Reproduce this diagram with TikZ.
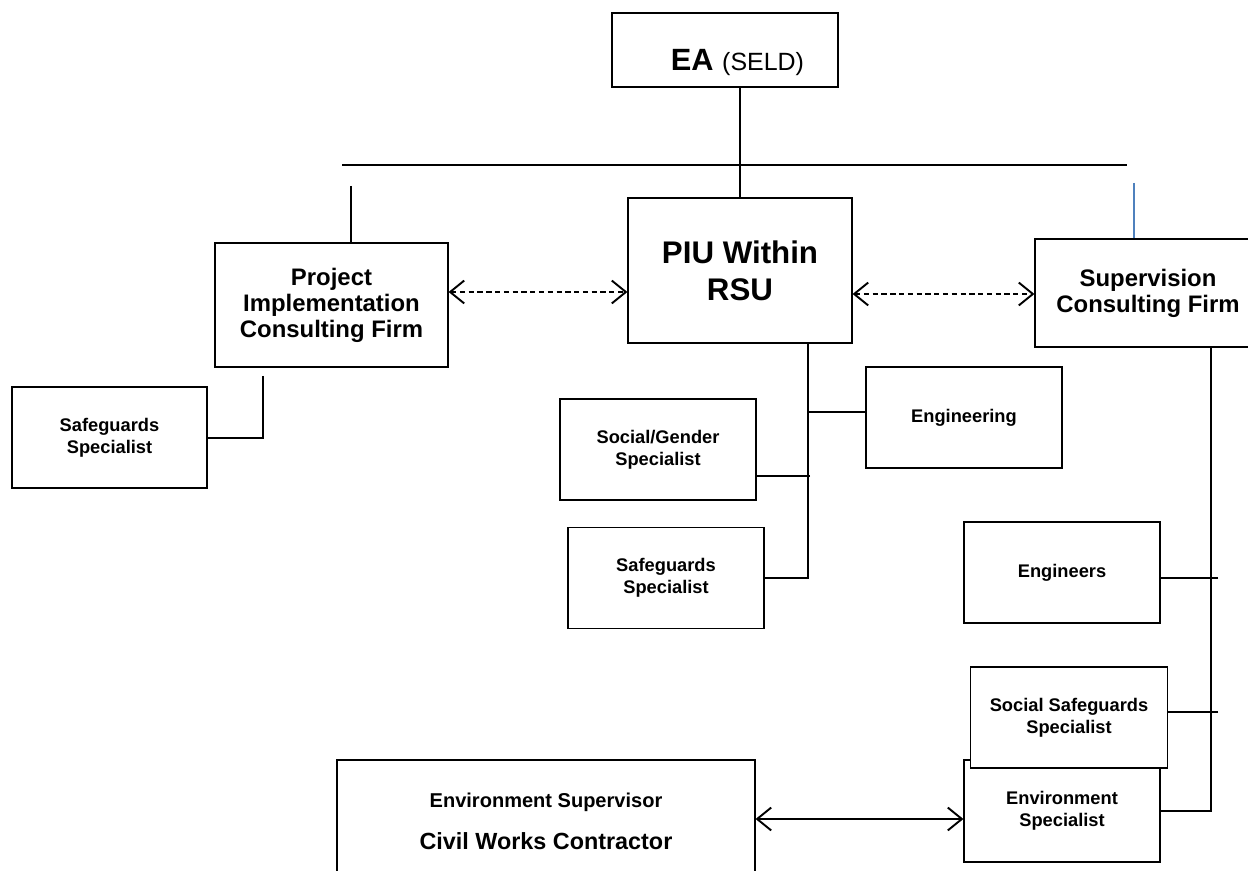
\documentclass[tikz,border=0pt]{standalone}
\usepackage{fontspec}
\setmainfont{Liberation Sans}
\usetikzlibrary{positioning,arrows.meta}
\definecolor{azul}{RGB}{79,129,189}

\begin{document}
\begin{tikzpicture}[x=0.02cm,y=-0.02cm]
\tikzset{
    bloque/.style={rectangle, draw=black, fill=white, line width=0.7pt, inner sep=0pt,
                   align=center, font=\bfseries},
    chico/.style={bloque, minimum width=3.92cm, minimum height=2.02cm,
                  font=\fontsize{10.4}{12.4}\selectfont\bfseries},
    medio/.style={bloque, font=\fontsize{13.6}{14.8}\selectfont\bfseries},
    linea/.style={line width=1.1pt},
    flecha/.style={{Straight Barb[length=8pt,width=13pt]}-{Straight Barb[length=8pt,width=13pt]}, line width=1.1pt},
    punteada/.style={flecha, dash pattern=on 3pt off 2pt}
}
\useasboundingbox (0,0) rectangle (1248,871);
\clip (0,0) rectangle (1248,871);
\fill[white] (0,0) rectangle (1248,871);

\node[bloque, minimum width=4.52cm, minimum height=1.48cm, text height=0.83cm, text depth=0pt] (ea) at (725,50)
    {\hspace*{0.5cm}\fontsize{17.5}{20}\selectfont EA {\mdseries\fontsize{14.2}{17}\selectfont (SELD)}};
\node[bloque, minimum width=4.48cm, minimum height=2.9cm, font=\fontsize{17.8}{21}\selectfont\bfseries] (piu) at (740,270.5)
    {PIU Within\\RSU};
\node[medio, minimum width=4.66cm, minimum height=2.48cm] (pic) at (331.5,305)
    {Project\\Implementation\\Consulting Firm};
\node[medio, minimum width=4.52cm, minimum height=2.16cm] (scf) at (1148,293)
    {Supervision\\Consulting Firm};

\node[chico, minimum width=3.9cm] (safe1) at (109.5,437.5) {Safeguards\\Specialist};
\node[chico] (eng) at (964,417.5) {Engineering};
\node[chico] (sg) at (658,449.5) {Social/Gender\\Specialist};
\node[chico] (safe2) at (666,578) {Safeguards\\Specialist};
\node[chico] (engs) at (1062,572.5) {Engineers};
\node[chico, minimum height=2.04cm] (env) at (1062,811) {Environment\\Specialist};
\node[chico, minimum width=3.94cm] (ssafe) at (1069,717.5) {Social Safeguards\\Specialist};
\node[bloque, minimum width=8.36cm, minimum height=2.44cm] (cwc) at (546,821)
    {\fontsize{11.4}{14}\selectfont Environment Supervisor\\[11pt]\fontsize{13.3}{16}\selectfont Civil Works Contractor};

% lineas de mando
\coordinate (barra1) at (342,165);
\coordinate (barra2) at (1127,165);
\coordinate (bajaL) at (351,186);
\coordinate (bajaR) at (1134,183);
\draw[linea] (barra1) -- (barra2);
\draw[linea] (piu.north) -- (piu.north |- ea.south);
\draw[linea] (bajaL) -- (bajaL |- pic.north);
\draw[azul, line width=0.7pt] (bajaR) -- (bajaR |- scf.north);

\coordinate (c1) at (263,376);
\coordinate (c1b) at (263,438);
\draw[linea] (c1) -- (c1b) -- (c1b -| safe1.east);

\coordinate (t1) at (808,578);
\coordinate (jeng) at (808,412);
\coordinate (jsg) at (810,476);
\draw[linea] (t1 |- piu.south) -- (t1) -- (t1 -| safe2.east);
\draw[linea] (jeng) -- (jeng -| eng.west);
\draw[linea] (jsg) -- (jsg -| sg.east);

\coordinate (t2) at (1211,811);
\coordinate (jengs) at (1218,578);
\coordinate (jss) at (1218,712);
\draw[linea] (t2 |- scf.south) -- (t2) -- (t2 -| env.east);
\draw[linea] (jengs) -- (jengs -| engs.east);
\draw[linea] (jss) -- (jss -| ssafe.east);

% flechas
\coordinate (f1) at (449,292);
\coordinate (f2) at (852,294);
\coordinate (f3) at (755,819);
\draw[punteada] (pic.east |- f1) -- (piu.west |- f1);
\draw[punteada] (piu.east |- f2) -- (scf.west |- f2);
\draw[flecha] (cwc.east |- f3) -- (env.west |- f3);
\end{tikzpicture}
\end{document}
